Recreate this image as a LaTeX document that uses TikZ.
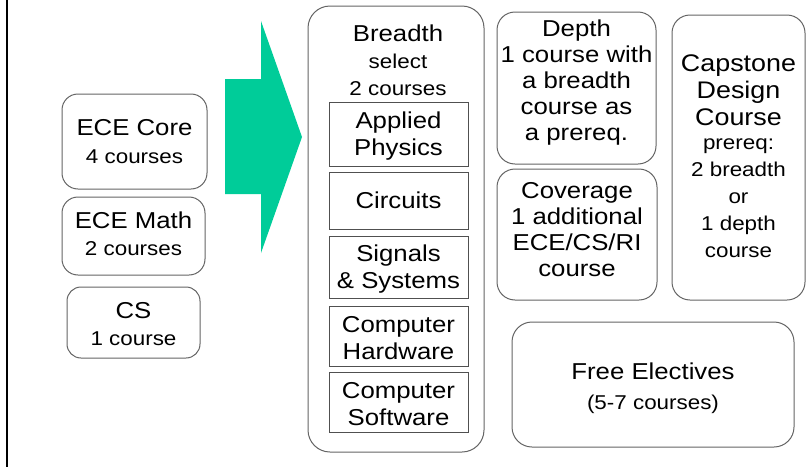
\documentclass[tikz,border=0pt]{standalone}
\usepackage{fontspec}
\setmainfont{Liberation Sans}[FakeStretch=1.12]
\newcommand{\bigf}{\fontsize{23}{27}\selectfont}
\newcommand{\midf}{\fontsize{23}{26}\selectfont}
\newcommand{\smf}{\fontsize{20}{25}\selectfont}
\newcommand{\capf}{\fontsize{24}{25}\selectfont}
\newcommand{\capsm}{\fontsize{20}{23.5}\selectfont}
\definecolor{arrowgreen}{RGB}{0,204,153}
\definecolor{boxgray}{RGB}{100,100,100}
\tikzset{
  rbox/.style={draw=boxgray, line width=1pt, rounded corners=#1, inner sep=0pt},
  rbox/.default=16pt,
  sqbox/.style={draw=boxgray!80!black, line width=1pt, inner sep=0pt, minimum width=139pt},
  txt/.style={align=center, font=\bigf, inner sep=0pt, text=black},
}
\begin{document}
\begin{tikzpicture}[x=1pt,y=-1pt]
\useasboundingbox (0,0) rectangle (807,469);
% left rule
\draw[line width=2pt] (7,0) -- (7,467);
% green arrow
\fill[arrowgreen] (225,79) -- (261,79) -- (261,21) -- (302,137) -- (261,253) -- (261,194) -- (225,194) -- cycle;
% left boxes
\node[rbox, minimum width=145pt, minimum height=95pt] (core) at (134.5,141.5) {};
\node[txt] (coret) at (134.5,142) {ECE Core\\[1pt]{\smf 4 courses}};
\node[rbox, minimum width=143pt, minimum height=78pt] (math) at (133.5,236) {};
\node[txt] (matht) at (133.5,234) {ECE Math\\{\smf 2 courses}};
\node[rbox=14pt, minimum width=133pt, minimum height=71pt] (cs) at (133.5,322.5) {};
\node[txt] (cst) at (133.5,324) {CS\\{\smf 1 course}};
% breadth
\node[rbox=22pt, minimum width=176pt, minimum height=446pt] (breadth) at (396,229) {};
\node[txt] (breadtht) at (398,60) {Breadth\\{\smf select}\\{\smf 2 courses}};
\node[sqbox, minimum height=64pt] (ap) at (398.5,134) {};
\node[txt] (apt) at (398.5,136) {Applied\\Physics};
\node[sqbox, minimum height=57pt] (circ) at (398.5,200.5) {};
\node[txt] (circt) at (398.5,200.5) {Circuits};
\node[sqbox, minimum height=62pt] (sig) at (398.5,267) {};
\node[txt] (sigt) at (398.5,269) {Signals\\\& Systems};
\node[sqbox, minimum height=60pt] (hw) at (398.5,336) {};
\node[txt] (hwt) at (398.5,338) {Computer\\Hardware};
\node[sqbox, minimum height=60pt] (sw) at (398.5,402) {};
\node[txt] (swt) at (398.5,404) {Computer\\Software};
% depth
\node[rbox=18pt, minimum width=159pt, minimum height=152pt] (depth) at (576.5,88) {};
\node[txt, font=\midf] (deptht) at (576.5,83) {Depth\\1 course with\\a breadth\\course as\\a prereq.};
% coverage
\node[rbox=18pt, minimum width=160pt, minimum height=131pt] (cov) at (577,234.5) {};
\node[txt, font=\midf] (covt) at (577,229.5) {Coverage\\1 additional\\ECE/CS/RI\\course};
% capstone
\node[rbox=18pt, minimum width=133pt, minimum height=285pt] (cap) at (738.5,157.5) {};
\node[txt] (capt) at (738.5,156) {{\capf Capstone}\\{\capf Design}\\{\capf Course}\\[-3pt]{\capsm prereq:}\\{\capsm 2 breadth}\\{\capsm or}\\{\capsm 1 depth}\\{\capsm course}};
% free electives
\node[rbox=20pt, minimum width=282pt, minimum height=125pt] (free) at (653,384.5) {};
\node[txt] (freet) at (653,388) {Free Electives\\[3pt]{\smf (5-7 courses)}};
\end{tikzpicture}
\end{document}
